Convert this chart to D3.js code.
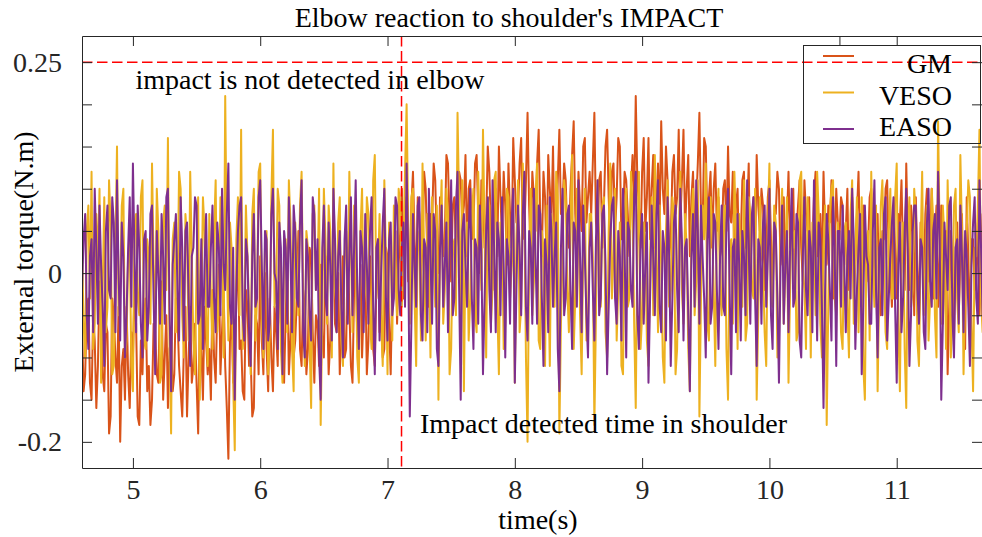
<!DOCTYPE html>
<html>
<head>
<meta charset="utf-8">
<script src="https://cdn.jsdelivr.net/npm/d3@7"></script>
<style>
body { margin: 0; background: #fff; }
svg text { font-family: "Liberation Serif", "Times New Roman", serif !important; }
</style>
</head>
<body>
<div id="container"></div>
<script>
let w = 982;
let h = 537;

// sampled signals, sample i is at time t0 + i*dt
let t0 = 4.6;
let dt = 0.0125;

let gm = [
  -.06,-.14,-.12,-.04,-.03,-.13,-.15,-.05,-.08,-.16,-.11,-.01,-.02,-.12,-.14,-.06,-.07,-.19,-.17,-.03,
  -.05,-.10,-.13,-.04,-.20,-.11,-.09,-.15,-.04,-.12,-.16,-.07,-.10,-.02,-.06,-.17,-.18,-.08,-.12,-.05,
  -.03,-.14,-.11,-.18,-.15,-.06,-.07,-.12,-.13,-.02,-.01,-.15,-.10,-.05,-.16,-.09,-.08,-.14,-.12,-.03,
  -.05,-.11,-.14,-.17,-.09,-.04,-.17,-.10,-.04,-.13,-.11,-.06,-.13,-.19,-.06,-.09,-.15,-.04,-.08,-.12,
  -.09,-.15,-.02,-.10,-.13,-.04,.01,-.12,-.07,-.02,-.11,-.16,-.22,-.08,-.05,-.13,-.12,-.03,.03,-.09,
  -.08,-.14,-.15,-.02,-.04,-.11,-.10,-.17,-.16,-.05,-.06,-.12,.02,-.08,-.12,.00,-.09,-.14,-.03,-.10,
  -.14,-.04,-.07,-.11,.04,-.06,-.10,-.13,-.05,.01,-.12,-.08,-.01,-.10,-.08,-.03,.05,-.09,-.11,-.02,
  -.04,-.12,-.09,.03,.02,-.07,-.13,-.05,-.06,-.11,.01,-.08,-.10,.02,-.03,-.12,-.08,-.01,.04,-.06,
  -.07,.00,-.12,-.05,.02,-.10,-.09,.03,-.04,-.11,-.13,-.02,.03,-.08,-.06,.01,-.10,-.04,.01,-.12,
  -.08,.02,-.03,-.09,-.11,-.01,.04,-.07,-.05,-.10,-.09,.03,.02,-.06,-.12,-.01,-.02,.05,-.06,.01,
  .05,.10,-.03,.06,.09,-.01,.01,.08,.12,.04,-.02,.09,.07,.00,.03,.12,.10,.02,-.04,.07,
  .06,.13,.11,.03,.00,.09,.08,.02,.04,.14,.13,.06,-.01,.08,.09,.03,.05,.12,.11,.06,
  .08,.14,.02,.10,.11,.04,.05,.13,.14,.07,.00,.11,.09,.03,.06,.15,.12,.05,-.02,.08,
  .10,.02,.15,.09,.04,.12,.08,.01,.13,.07,.03,.16,.11,.06,.07,.13,.16,.04,.05,.11,
  .19,.08,.02,.12,.09,.05,.13,.17,.06,.02,.12,.09,.01,.14,.10,.06,.15,.03,.04,.11,
  .17,.07,.08,.13,.11,.04,.03,.10,.14,.18,.07,.02,.12,.08,.05,.15,.16,.06,.09,.12,
  .07,.13,.19,.06,.04,.11,.12,.03,.08,.15,.17,.09,.03,.12,.13,.05,.09,.16,.15,.04,
  .06,.12,.11,.07,.02,.10,.14,.08,.21,.11,.08,.03,.12,.16,.05,.09,.16,.04,.10,.14,
  .03,.08,.13,.06,.18,.10,.07,.15,.11,.02,.04,.12,.14,.07,.09,.17,.06,.11,.17,.05,
  .10,.14,.02,.09,.12,.04,.08,.13,.19,.07,.05,.16,.15,.06,.09,.12,.03,.10,.13,.05,
  .09,.02,.03,.10,.11,.05,.15,.07,.06,.12,.01,.08,.10,.00,.04,.11,.12,.03,.07,.13,
  -.01,.06,.09,.02,.14,.08,.05,.10,.08,-.02,.02,.09,.11,.04,-.03,.07,.07,.12,.10,.01,
  .04,.09,.00,.06,.12,.03,.06,.10,-.02,.05,.08,.11,.03,-.01,.11,.07,.05,.09,-.04,.03,
  .09,.12,.02,.06,.07,-.01,.12,.05,.01,.08,.06,.11,-.03,.02,.10,.06,.04,.09,.08,.01,
  .05,.10,-.02,.04,.09,-.03,.01,.07,.12,.02,-.04,.08,.06,-.01,.03,.09,.10,.00,-.01,.06,
  .07,-.03,-.05,.05,.04,.10,.11,.02,.00,-.04,.08,.03,-.03,.07,.06,.11,.02,-.02,.13,.04,
  -.02,.08,.05,-.05,.09,.01,-.06,.06,.03,-.02,.07,.10,-.01,.04,.10,-.03,.04,.08,-.04,.02,
  .08,-.06,.01,.05,-.12,-.04,.05,.01,-.08,.03,.06,-.05,.02,.07,-.03,-.09,.09,.02,-.07,.04,
  .04,-.02,.00,.06,-.05,.01,.07,-.03
];

let veso = [
  .03,-.06,-.10,.05,.08,-.03,.12,-.09,-.06,.07,.01,.10,-.13,-.02,.09,-.07,-.04,.11,.06,-.12,
  -.11,.03,.15,-.05,-.02,.08,.10,-.10,-.08,.02,.04,-.11,-.14,.06,.07,-.03,-.05,.09,.11,-.08,
  -.09,.04,.02,-.06,.13,.01,-.07,.10,.05,-.13,-.12,.06,.08,-.02,.16,-.09,-.19,.04,.06,-.07,
  -.03,.12,.10,-.05,-.10,.07,.04,-.08,.12,.02,-.08,-.12,.01,.09,-.15,-.04,.09,.05,-.05,-.11,
  .07,-.03,-.09,.05,.11,-.07,-.04,.09,.06,-.10,.21,.02,-.08,.06,.03,-.13,-.21,.04,.09,-.05,
  .17,-.09,-.06,.08,.02,-.04,-.12,.07,.10,-.08,-.03,.12,.13,-.06,-.10,.03,.05,-.12,-.07,.09,
  .17,-.04,-.02,.10,.08,-.09,-.13,.02,.04,-.07,.11,.06,-.09,-.14,.06,.01,-.05,.08,.12,-.03,
  -.11,.05,.03,-.08,-.16,.07,.08,-.02,-.01,.10,-.18,-.05,.10,.04,-.06,.08,.05,-.10,.13,-.02,
  -.04,.06,.09,-.08,-.11,.02,.05,-.05,.12,.03,-.07,.08,.02,-.10,-.13,.05,.10,-.04,-.02,.09,
  .07,-.06,-.09,.11,.14,-.03,.00,.07,-.06,-.11,.11,.02,-.12,.06,.04,-.08,.08,.01,-.05,.10,
  .08,-.04,.03,.12,.20,.06,-.06,.09,.10,-.03,-.11,.04,.05,-.08,.13,.02,-.08,.07,.02,-.10,
  .09,.03,-.04,.08,-.15,.05,.11,-.06,-.02,.10,.07,-.12,-.09,.03,.04,-.05,.19,.08,-.06,.11,
  -.14,.03,.06,-.08,-.03,.07,.10,-.05,-.07,.12,.04,-.02,.17,.05,-.10,.09,.08,-.06,-.02,.11,
  .12,-.04,-.12,.06,.05,-.09,-.06,.10,.09,-.03,.01,.08,-.13,.04,.11,-.07,-.04,.13,.07,-.10,
  -.20,.02,.10,-.05,-.01,.09,.13,-.08,-.09,.05,.03,-.11,.08,.01,-.11,.07,.05,-.04,.12,.09,
  -.19,-.06,.02,.11,.09,-.02,-.07,.06,.14,-.09,-.03,.10,.06,-.05,-.12,.03,.10,-.08,-.05,.07,
  .07,.02,-.18,-.05,.11,.04,-.04,.08,.09,-.07,-.10,.05,.13,-.03,.02,.10,-.08,-.02,.06,-.11,
  -.12,.07,.10,-.04,-.03,.12,.08,-.06,-.16,.03,.12,-.09,-.05,.06,.04,-.08,-.11,.02,.09,-.05,
  .14,.03,-.07,.08,.01,-.10,-.13,.05,.11,-.04,-.02,.09,.07,-.12,-.09,.04,.12,-.02,-.06,.07,
  .03,-.09,-.14,.06,.10,-.05,-.01,.11,-.17,-.03,.08,.04,.13,-.06,-.08,.09,.05,-.02,-.11,.06,
  .10,-.02,-.05,.06,.08,-.09,-.15,.03,.04,-.06,.12,.05,-.09,.07,.02,-.04,.11,-.08,-.06,.09,
  .07,-.02,-.03,.10,-.15,-.05,.09,.02,.01,-.07,-.11,.05,.13,-.03,-.04,.08,.06,-.10,-.08,.04,
  .10,-.06,.00,.09,-.13,-.02,.08,.03,.05,-.08,-.07,.11,.12,.01,-.02,-.09,.09,.04,-.10,.06,
  .04,-.05,.12,.07,-.06,-.10,.03,.08,-.18,-.04,.07,.10,.11,-.03,-.05,.06,.02,-.07,-.09,.05,
  .06,-.04,-.10,.07,.11,-.06,.03,.09,-.07,.02,.09,-.11,-.15,.04,.05,-.08,.12,.01,-.04,.08,
  -.14,-.02,.08,.11,.01,-.07,-.09,.05,.10,-.03,-.03,.09,.13,-.06,-.14,.03,.06,-.09,-.16,.05,
  .09,-.04,-.02,.10,.07,-.08,-.11,.03,.12,-.05,.00,.08,-.08,-.03,.10,.06,-.05,-.10,.18,.04,
  -.06,.08,.04,-.09,.11,.02,-.10,-.04,.08,.10,-.03,-.07,.14,.05,-.12,-.02,.05,.11,.09,-.06,
  -.14,.03,.02,.08,.17,-.03,-.07,.06
];

let easo = [
  -.02,.04,.07,-.05,-.09,.02,.04,-.07,.10,.03,-.06,.08,.01,-.04,-.11,.05,.08,-.02,-.03,.09,
  .06,-.07,.11,.00,-.08,.06,.02,-.10,-.05,.03,.09,-.04,.13,.02,-.07,.08,.03,-.06,-.10,.04,
  .05,-.08,-.04,.07,.08,-.03,-.12,.05,.00,-.06,.07,.02,-.06,.09,.10,-.04,-.14,.01,.04,.07,
  -.02,-.08,.09,.03,-.08,.05,.06,-.03,-.11,.02,.03,.09,.08,-.06,-.05,.04,-.09,.01,.07,-.04,
  -.04,.03,.08,-.03,-.07,.06,.03,-.05,.10,.01,-.02,.07,.13,-.04,-.06,.03,-.15,-.02,.05,.08,
  .09,-.05,-.08,.04,.02,-.07,-.11,.02,.07,-.04,-.03,.09,.11,.01,-.09,.05,.04,-.08,-.06,.07,
  .10,.00,-.01,-.09,.06,.03,-.12,.05,.03,-.06,.09,.02,-.07,.08,.05,-.03,-.04,.06,.11,-.07,
  -.10,.04,.02,-.05,-.08,.09,.07,-.02,.04,-.10,-.15,.03,.08,-.03,-.05,.06,.01,-.08,.10,.04,
  -.07,.02,.05,-.04,-.10,.04,.08,-.06,.02,.09,-.05,.03,.11,-.02,-.09,.05,.03,-.07,.07,.01,
  -.06,.05,.09,-.04,-.12,.03,.04,-.08,.00,.06,.10,-.03,-.08,.04,.06,-.05,-.03,.09,.08,-.02,
  -.05,.03,.06,-.04,.13,.02,-.17,-.06,.07,.01,-.04,.08,.09,-.05,-.08,.04,.03,-.07,.10,.02,
  -.06,.07,.05,-.09,-.11,.03,.08,-.04,.01,.06,-.07,.02,.11,-.05,-.03,.08,.12,-.02,-.15,.05,
  .07,.01,-.04,.05,.10,-.03,-.09,.04,.03,-.06,.08,.02,-.12,-.03,.05,.09,-.02,-.07,.11,.03,
  -.07,.06,.04,-.05,.09,.01,-.10,.04,.02,-.06,.06,.10,-.13,-.02,.08,.03,-.05,.07,.12,-.04,
  -.08,.05,.03,-.06,.10,.02,-.06,.08,.07,-.03,-.11,.04,.01,-.07,.09,.05,-.04,.02,.06,-.09,
  -.14,.03,.10,-.05,-.03,.07,.08,-.02,-.09,.06,.05,-.04,.11,.02,-.07,.08,.02,-.05,-.10,.03,
  .06,-.02,-.08,.04,.11,-.05,-.03,.07,.08,.01,-.12,-.04,.04,.08,.09,-.03,-.06,.05,.02,-.08,
  .10,.03,-.10,.06,.05,-.02,-.04,.09,.12,-.05,-.09,.04,.07,-.06,.01,.06,-.13,-.03,.08,.02,
  -.05,.07,.11,-.04,-.07,.05,.03,-.08,.09,.02,-.11,-.03,.06,.08,-.02,-.07,.10,.04,-.08,.03,
  .04,-.05,-.14,.02,.07,-.04,.11,.05,-.06,.08,.02,-.03,-.10,.04,.09,-.06,-.04,.07,.06,-.02,
  -.09,.02,.08,-.04,-.05,.06,.10,-.02,-.12,.03,.04,-.07,.07,.01,-.08,.05,.02,-.05,.11,.03,
  -.06,.07,.09,-.03,-.11,.04,.03,-.06,.06,.08,-.04,.02,.10,-.05,-.09,.06,.05,-.03,-.13,.01,
  .08,-.06,.01,.05,-.07,.03,.10,-.04,-.03,.07,.06,-.08,-.10,.02,.09,-.02,-.05,.05,.03,-.07,
  .11,.02,-.08,.06,.04,-.04,-.16,-.02,.07,.04,-.02,-.08,.09,.03,-.11,.05,.05,-.04,.08,.01,
  -.07,.02,.05,-.03,.10,.04,-.09,-.02,.03,.07,-.12,-.04,.08,.02,.01,-.06,-.06,.05,.11,-.02,
  -.10,.03,.04,-.05,.07,.09,-.08,-.03,.02,.06,.09,-.04,-.13,.01,.06,-.07,-.03,.05,.10,.02,
  -.11,-.05,.05,.08,.08,-.02,-.06,.04,.03,-.07,-.09,.06,.10,-.01,-.04,.05,.07,-.03,.12,.04,
  -.15,-.06,.06,.02,-.02,.08,.09,-.05,-.10,.03,.04,-.06,.08,.02,-.07,.05,.02,-.04,-.11,.01,
  .06,.09,-.03,-.06,.11,.03,-.05,.02
];

let seriesNames = ["GM", "VESO", "EASO"];
let seriesColors = ["#d95319", "#edb120", "#7e2f8e"];

let xTicks = [5, 6, 7, 8, 9, 10, 11];
let xTopTicks = [5, 6, 7, 8, 9, 10.55, 11];
let yTicks = [-0.2, -0.15, -0.1, -0.05, 0, 0.05, 0.1, 0.15, 0.2, 0.25];
let yLabeled = [0.25, 0, -0.2];

let threshold = 0.25;     // elbow detection level
let impactTime = 7.11;    // impact detected in shoulder

let notes = [
  {t: 5.02, v: 0.218, label: "impact is not detected in elbow"},
  {t: 7.255, v: -0.19, label: "Impact detected time in shoulder"}
];

let pLeft = 82, pTop = 36, pRight = 982, pBottom = 468;
let axisColor = "#262626";
let serif = '"Liberation Serif", "Times New Roman", serif';

let viz = d3.select("#container")
  .append("svg")
    .attr("width", w)
    .attr("height", h)
    .attr("font-family", serif);

let x = d3.scaleLinear().domain([4.6, 11.67]).range([pLeft, pRight]);
let y = d3.scaleLinear().domain([-0.231, 0.281]).range([pBottom, pTop]);

viz.append("clipPath").attr("id", "plotclip")
  .append("rect")
    .attr("x", pLeft).attr("y", pTop)
    .attr("width", pRight - pLeft).attr("height", pBottom - pTop);

let line = d3.line()
  .x(function(d, i){ return x(t0 + i * dt); })
  .y(function(d){ return y(d); });

let plot = viz.append("g").attr("clip-path", "url(#plotclip)");

[gm, veso, easo].forEach(function(s, k){
  plot.append("path")
    .datum(s)
    .attr("d", line)
    .attr("fill", "none")
    .attr("stroke", seriesColors[k])
    .attr("stroke-width", 2)
    .attr("stroke-linejoin", "round");
});

// red dashed markers
plot.append("line")
  .attr("x1", pLeft).attr("x2", pRight)
  .attr("y1", y(threshold)).attr("y2", y(threshold))
  .attr("stroke", "#ff0000").attr("stroke-width", 1.5)
  .attr("stroke-dasharray", "10.5,4.5");
plot.append("line")
  .attr("x1", x(impactTime)).attr("x2", x(impactTime))
  .attr("y1", pTop).attr("y2", pBottom)
  .attr("stroke", "#ff0000").attr("stroke-width", 1.5)
  .attr("stroke-dasharray", "10.5,4.5");

// axes
function styleAxis(g){
  g.attr("font-family", serif).attr("font-size", 28);
  g.selectAll("path").attr("stroke", axisColor);
  g.selectAll("line").attr("stroke", axisColor);
  g.selectAll("text").attr("fill", axisColor);
}

viz.append("g")
  .attr("transform", "translate(0," + pBottom + ")")
  .call(d3.axisBottom(x).tickValues(xTicks).tickSizeInner(-10).tickSizeOuter(0)
    .tickPadding(11).tickFormat(function(d){ return String(d); }))
  .call(styleAxis);

viz.append("g")
  .attr("transform", "translate(0," + pTop + ")")
  .call(d3.axisTop(x).tickValues(xTopTicks).tickSizeInner(-10).tickSizeOuter(0)
    .tickFormat(""))
  .call(styleAxis);

viz.append("g")
  .attr("transform", "translate(" + pLeft + ",0)")
  .call(d3.axisLeft(y).tickValues(yTicks).tickSizeInner(-10).tickSizeOuter(0)
    .tickPadding(20)
    .tickFormat(function(d){ return yLabeled.indexOf(d) >= 0 ? String(d) : ""; }))
  .call(styleAxis);

viz.append("g")
  .attr("transform", "translate(" + pRight + ",0)")
  .call(d3.axisRight(y).tickValues(yTicks).tickSizeInner(-10).tickSizeOuter(0)
    .tickFormat(""))
  .call(styleAxis);

// titles
viz.append("text")
  .text("Elbow reaction to shoulder's IMPACT")
  .attr("x", 509).attr("y", 27)
  .attr("text-anchor", "middle")
  .attr("font-size", 28)
  .attr("fill", "#000");

viz.append("text")
  .text("time(s)")
  .attr("x", 538).attr("y", 529)
  .attr("text-anchor", "middle")
  .attr("font-size", 28)
  .attr("fill", "#000");

viz.append("text")
  .text("External torque(N.m)")
  .attr("transform", "translate(33," + ((pTop + pBottom) / 2) + ") rotate(-90)")
  .attr("text-anchor", "middle")
  .attr("font-size", 28)
  .attr("fill", "#000");

// annotations
viz.selectAll(".note").data(notes).enter()
  .append("text")
    .attr("class", "note")
    .text(function(d){ return d.label; })
    .attr("x", function(d){ return x(d.t); })
    .attr("y", function(d){ return y(d.v); })
    .attr("font-size", 28)
    .attr("fill", "#000");

// legend
let legend = viz.append("g").attr("class", "legend");
legend.append("rect")
  .attr("x", 803.5).attr("y", 45.5)
  .attr("width", 177).attr("height", 98)
  .attr("fill", "none")
  .attr("stroke", axisColor);

let items = legend.selectAll(".item").data(seriesNames).enter()
  .append("g")
    .attr("class", "item");
items.append("line")
  .attr("x1", 823).attr("x2", 854)
  .attr("y1", function(d, i){ return 56 + i * 36.5; })
  .attr("y2", function(d, i){ return 56 + i * 36.5; })
  .attr("stroke", function(d, i){ return seriesColors[i]; })
  .attr("stroke-width", 2);
items.append("text")
  .text(function(d){ return d; })
  .attr("x", 952)
  .attr("y", function(d, i){ return 73 + i * 31.5; })
  .attr("text-anchor", "end")
  .attr("font-size", 28)
  .attr("fill", "#000");
</script>
</body>
</html>
